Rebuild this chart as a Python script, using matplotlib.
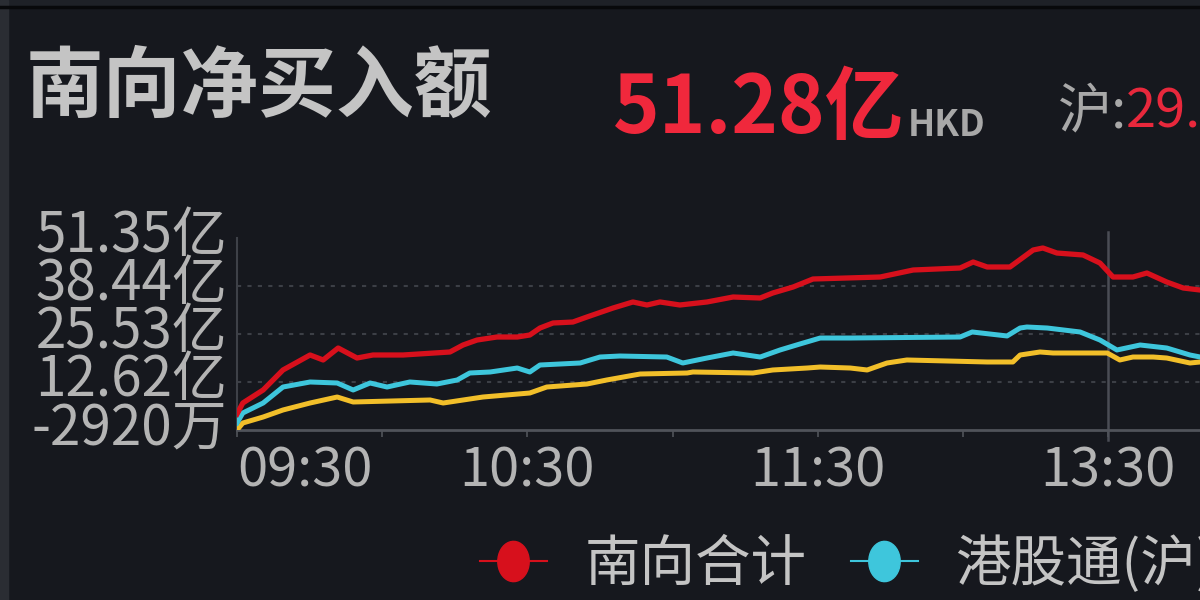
import matplotlib
matplotlib.use('Agg')
import matplotlib.pyplot as plt
from matplotlib.path import Path
from matplotlib.lines import Line2D
from matplotlib.patches import Rectangle
from matplotlib.transforms import ScaledTranslation
import numpy as np

plt.rcParams['font.family'] = ['Noto Sans CJK SC', 'DejaVu Sans']

# trading minutes counted from 09:30 (12:00 and 13:00 share one point), values in 亿 HKD
red_t = [0, 1.2, 5.4, 9.5, 15.1, 17.8, 20.9, 24.8, 28.1, 34.3, 44.0, 46.7, 49.6, 53.7, 57.9,
         60.5, 62.6, 65.3, 69.4, 72.3, 77.7, 81.8, 84.7, 87.4, 91.5, 97.1, 102.5, 108.1, 110.7,
         114.9, 119.0, 132.9, 139.7, 149.4, 152.1, 155.0, 159.7, 164.5, 166.5, 169.4, 174.8,
         178.3, 181.0, 185.1, 188.0, 192.1, 195.5, 199.0]
red_v = [4.0, 6.97, 10.47, 15.85, 19.88, 18.54, 21.76, 19.07, 19.88, 19.88, 20.69, 22.57, 23.91,
         24.72, 24.72, 25.26, 27.14, 28.49, 28.75, 30.10, 32.52, 34.14, 33.33, 34.14, 33.33, 34.14,
         35.48, 35.21, 36.56, 38.17, 40.32, 40.86, 42.74, 43.28, 44.89, 43.55, 43.55, 48.12, 48.66,
         47.31, 46.78, 44.62, 40.86, 40.86, 41.93, 39.51, 37.90, 37.36]

cyan_t = [0, 1.2, 5.4, 9.5, 15.1, 20.7, 24.0, 27.5, 31.0, 35.7, 41.3, 45.5, 48.1, 52.3, 57.9,
          60.5, 62.6, 70.9, 75.0, 79.1, 88.8, 92.1, 97.1, 102.5, 108.1, 112.2, 116.3, 120.5,
          126.7, 149.4, 151.9, 159.1, 161.8, 163.2, 167.4, 174.2, 178.3, 181.8, 186.6, 192.1,
          196.9, 199.0]
cyan_v = [1.59, 4.28, 6.97, 11.27, 12.62, 12.35, 10.47, 12.35, 11.27, 12.62, 12.08, 13.16, 15.04,
          15.31, 16.38, 15.31, 17.19, 17.73, 19.34, 19.61, 19.34, 17.73, 19.07, 20.42, 19.34, 21.23,
          22.84, 24.45, 24.45, 24.72, 26.07, 25.0, 27.14, 27.41, 27.14, 26.07, 23.91, 21.23, 22.57,
          21.76, 19.88, 19.34]

yellow_t = [0, 1.2, 5.4, 9.5, 15.1, 20.7, 24.0, 39.9, 42.6, 50.8, 60.5, 64.0, 72.3, 76.4, 83.3,
            93.0, 94.2, 106.6, 110.7, 117.8, 120.5, 126.7, 130.2, 134.3, 138.4, 155.0, 160.3,
            161.8, 165.9, 168.6, 179.8, 182.4, 185.1, 189.3, 192.1, 196.9, 199.0]
yellow_v = [-0.29, 1.59, 3.2, 5.09, 6.97, 8.58, 7.24, 7.78, 6.97, 8.58, 9.66, 11.27, 12.08, 13.16,
            14.77, 15.04, 15.31, 15.04, 15.85, 16.38, 16.65, 16.38, 15.85, 17.73, 18.54, 18.0, 18.0,
            19.88, 20.69, 20.42, 20.42, 18.54, 19.34, 19.34, 19.07, 17.73, 18.0]

y_ticks = [-0.292, 12.62, 25.53, 38.44, 51.35]
y_labels = ['-2920万', '12.62亿', '25.53亿', '38.44亿', '51.35亿']
x_ticks = [0, 60, 120, 180]
x_labels = ['09:30', '10:30', '11:30', '13:30']
x_minor = [30, 90, 150]
series_names = ['南向合计', '港股通(沪)', '港股通(深)']

BG = '#16181e'
RED = '#d7101c'
CYAN = '#3ec6dc'
YELLOW = '#f2bf2a'
TXT = '#b4b4b4'

W, H = 1200, 600
fig = plt.figure(figsize=(12, 6), dpi=100, facecolor=BG)

# frame bits of the screenshot
fig.patches.append(Rectangle((0, 1 - 6 / H), 1, 6 / H, transform=fig.transFigure,
                             color='#1e2127', zorder=0))
fig.add_artist(Line2D([0, 1], [1 - 7 / H, 1 - 7 / H], transform=fig.transFigure,
                      color='#08090b', lw=2.5))
fig.patches.append(Rectangle((0, 0), 8 / W, 1, transform=fig.transFigure,
                             color='#2a2d33', zorder=0))

# header
fig.text(26 / W, 1 - 88 / H, '南向净买入额', fontsize=56, fontweight='bold',
         color='#c4c4c4', va='center', ha='left')
fig.text(613 / W, 1 - 133 / H, '51.28亿', fontsize=57, fontweight='bold',
         color='#f0283c', va='baseline', ha='left')
fig.text(908 / W, 1 - 136 / H, 'HKD', fontsize=26, fontweight='bold',
         color='#a8a8a8', va='baseline', ha='left')
fig.text(1058 / W, 1 - 127 / H, '沪:', fontsize=39, color='#a8a8a8',
         va='baseline', ha='left')
fig.text(1126 / W, 1 - 127 / H, '29.', fontsize=39, color='#e8283c',
         va='baseline', ha='left')

# chart area (extends past the right edge, as in the cropped screenshot)
left = 237 / W
bottom = (H - 430) / H
height = (430 - 238) / H
width = 330 * 4.84 / W
ax = fig.add_axes([left, bottom, width, height])
ax.set_facecolor(BG)
ax.set_xlim(0, 330)
ax.set_ylim(y_ticks[0], y_ticks[-1])

for g in y_ticks[1:-1]:
    ax.axhline(g, color='#3c3f46', lw=1.5, ls=(0, (2, 3)), zorder=1)
ax.axvline(180, ymin=-0.05, ymax=1.03, color='#4a4d55', lw=1.8, clip_on=False, zorder=1)

ax.plot(yellow_t, yellow_v, color=YELLOW, lw=3.6, zorder=3, solid_joinstyle='round')
ax.plot(cyan_t, cyan_v, color=CYAN, lw=3.6, zorder=3, solid_joinstyle='round')
ax.plot(red_t, red_v, color=RED, lw=3.8, zorder=4, solid_joinstyle='round')

for s in ['top', 'right']:
    ax.spines[s].set_visible(False)
ax.spines['left'].set_color('#3e4148')
ax.spines['left'].set_linewidth(1.5)
ax.spines['bottom'].set_color('#50535a')
ax.spines['bottom'].set_linewidth(2)

ax.set_yticks(y_ticks)
ax.set_yticklabels(y_labels)
ax.tick_params(axis='y', length=0, pad=7, labelsize=39.5, labelcolor=TXT)
off = ScaledTranslation(0, 8 / 100, fig.dpi_scale_trans)
for lab in ax.get_yticklabels():
    lab.set_transform(lab.get_transform() + off)
    lab.set_fontweight('light')

ax.set_xticks(x_ticks)
ax.set_xticklabels(x_labels)
ax.set_xticks(x_minor, minor=True)
ax.tick_params(axis='x', which='both', direction='out', length=5, width=1.2,
               color='#50535a', pad=5, labelsize=39, labelcolor=TXT)
xl = ax.get_xticklabels()
xl[0].set_ha('left')
for lab in xl:
    lab.set_fontweight('light')

# legend
oval = Path(np.column_stack([0.78 * np.cos(np.linspace(0, 2 * np.pi, 40)),
                             np.sin(np.linspace(0, 2 * np.pi, 40))]))
handles = [Line2D([], [], color=c, lw=1.5, marker=oval, markersize=29,
                  markerfacecolor=c, markeredgecolor=c)
           for c in [RED, CYAN, YELLOW]]
leg = fig.legend(handles, series_names, loc='center left', ncol=3,
                 bbox_to_anchor=(480 / W, 1 - 565 / H), frameon=False,
                 fontsize=40, borderpad=0, borderaxespad=0, handlelength=1.2,
                 handletextpad=0.68, columnspacing=0.8)
for txt in leg.get_texts():
    txt.set_color('#c4c4c4')
    txt.set_fontweight('light')

fig.savefig('out.png', dpi=100, facecolor=BG)
